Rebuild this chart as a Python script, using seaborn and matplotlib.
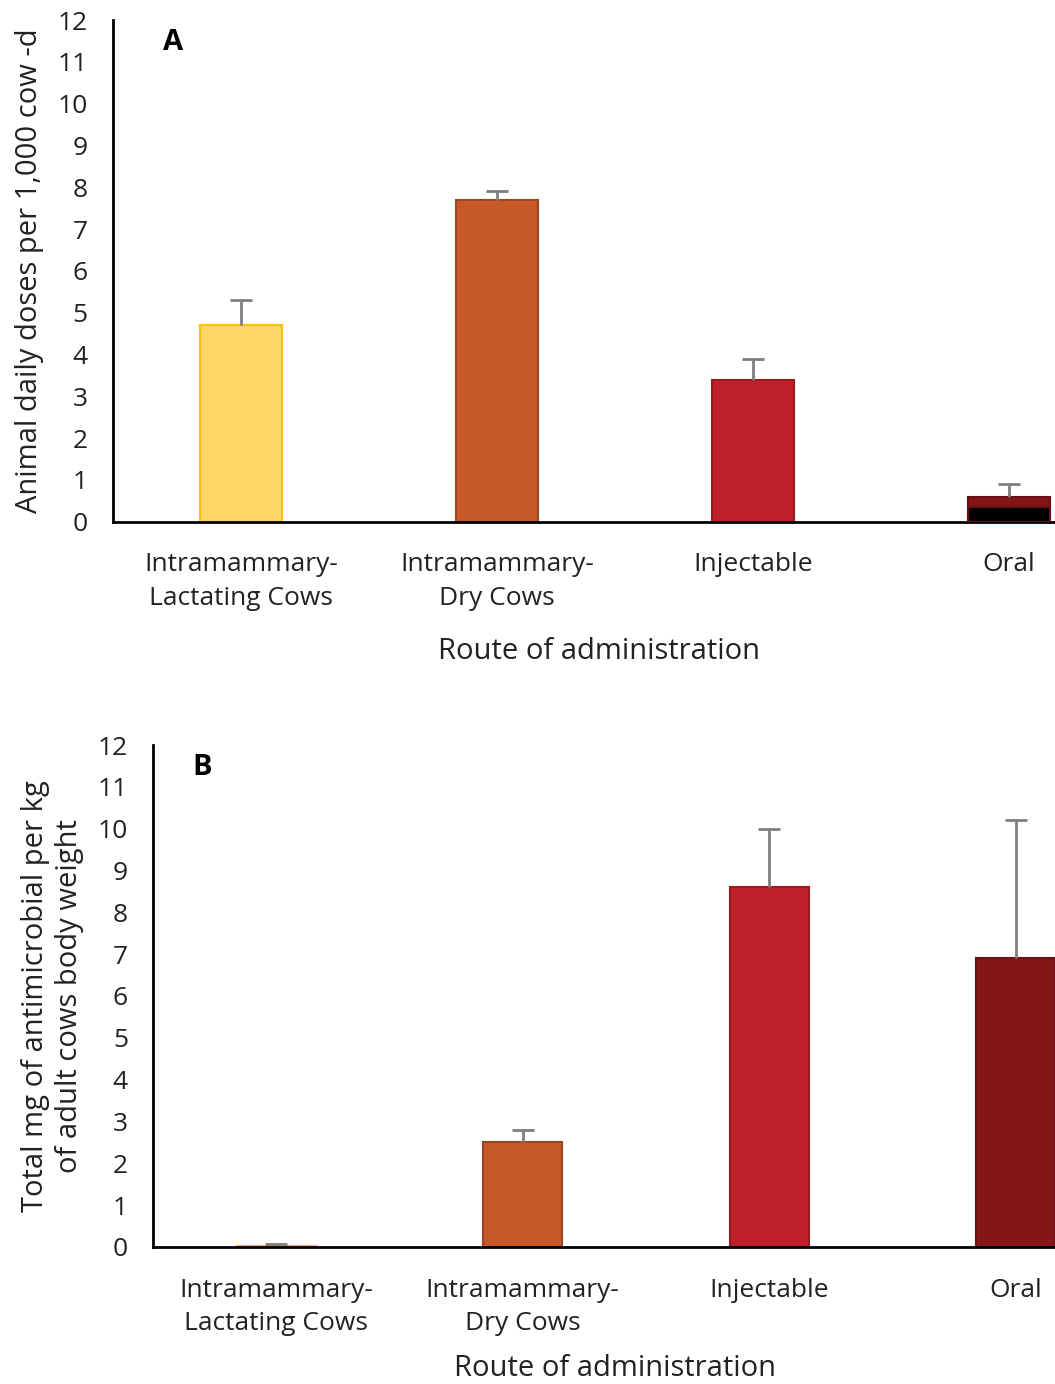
import numpy as np
import matplotlib
matplotlib.use("Agg")
import matplotlib.pyplot as plt
import seaborn as sns

# data
routes = ["Intramammary-\nLactating Cows", "Intramammary-\nDry Cows", "Injectable", "Oral"]
add_values = [4.7, 7.7, 3.4, 0.6]
add_err = [0.6, 0.2, 0.5, 0.3]
add_oral_black = 0.35
mg_values = [0.02, 2.5, 8.6, 6.9]
mg_err = [0.04, 0.3, 1.4, 3.3]

fill_colors = ["#FCD666", "#C55A28", "#C0202A", "#841618"]
edge_colors = ["#FFC000", "#9E4420", "#9A1A22", "#6A1013"]

sns.set_theme(style="white")
plt.rcParams["font.family"] = ["Open Sans", "DejaVu Sans"]

fig = plt.figure(figsize=(10.55, 13.84), dpi=100)
axA = fig.add_axes([0.107, 0.623, 0.893, 0.3625])
axB = fig.add_axes([0.145, 0.099, 0.855, 0.3627])


def draw_panel(ax, vals, errs, ylabel, letter, lx, right, xlab_x, xpad):
    sns.barplot(x=routes, y=vals, hue=routes, palette=fill_colors, legend=False,
                width=0.32, ax=ax, saturation=1)
    for p, ec in zip(ax.patches, edge_colors):
        p.set_edgecolor(ec)
        p.set_linewidth(1.5)
    eb = ax.errorbar(np.arange(len(vals)), vals, yerr=[np.zeros(len(vals)), errs],
                     fmt="none", ecolor="#7F7F7F", elinewidth=2, capsize=8,
                     capthick=2, zorder=1)
    eb[1][0].set_visible(False)  # no cap at the bar top
    ax.set_ylim(0, 12)
    ax.set_yticks(range(0, 13))
    ax.set_xlim(-0.5, right)
    for s in ["top", "right"]:
        ax.spines[s].set_visible(False)
    for s in ["left", "bottom"]:
        ax.spines[s].set_color("black")
        ax.spines[s].set_linewidth(2)
    ax.tick_params(axis="both", length=0, labelsize=19, colors="#222222")
    ax.tick_params(axis="y", pad=18)
    ax.tick_params(axis="x", pad=22)
    for t in ax.get_xticklabels():
        t.set_linespacing(1.45)
    ax.set_xlabel("Route of administration", fontsize=21, labelpad=xpad, color="#222222")
    ax.xaxis.label.set_x(xlab_x)
    ax.set_ylabel(ylabel, fontsize=21, color="#222222", labelpad=10)
    ax.text(lx, 0.955, letter, transform=ax.transAxes, fontsize=21,
            fontweight="bold", va="center", ha="left", color="black")


draw_panel(axA, add_values, add_err, "Animal daily doses per 1,000 cow -d", "A",
           0.053, 3.18, 0.516, 19)
axA.bar(3, add_oral_black, width=0.32, color="black", edgecolor="#6A1013",
        linewidth=1.5, zorder=3)

draw_panel(axB, mg_values, mg_err,
           "Total mg of antimicrobial per kg\nof adult cows body weight", "B",
           0.044, 3.16, 0.512, 13)

fig.savefig("out.png", dpi=100)
